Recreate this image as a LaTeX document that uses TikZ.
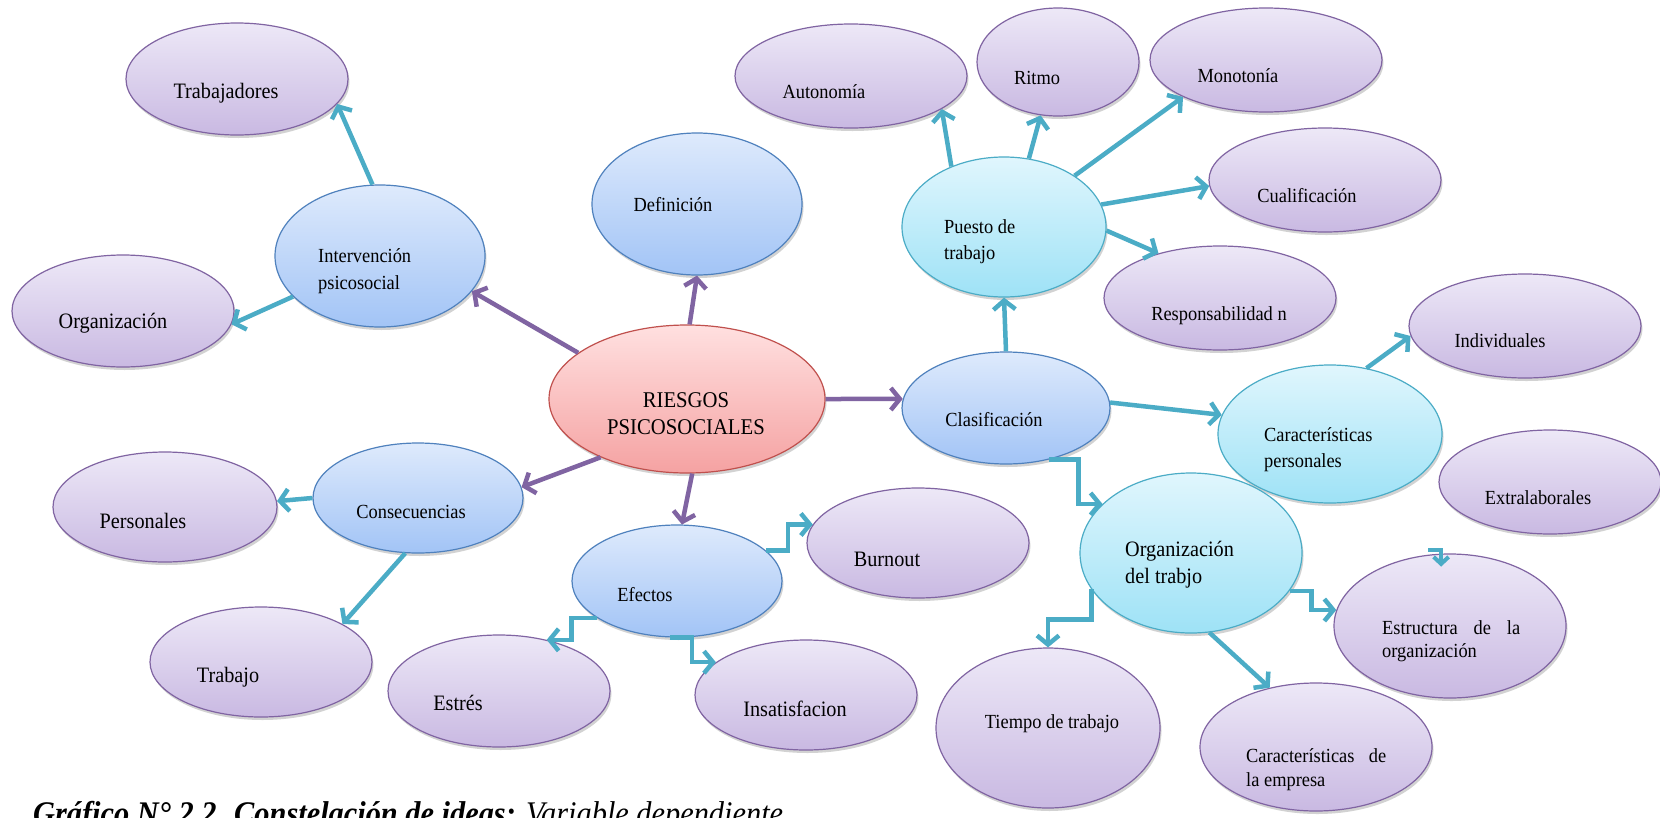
\documentclass[tikz,border=0pt]{standalone}
\usepackage{fontspec}
\setmainfont{Liberation Serif}[FakeStretch=0.92]
\usetikzlibrary{shapes.geometric,arrows.meta,shadows}
\definecolor{leaftop}{RGB}{237,232,247}
\definecolor{leafbot}{RGB}{201,185,226}
\definecolor{leafline}{RGB}{128,100,162}
\definecolor{themetop}{RGB}{222,234,252}
\definecolor{themebot}{RGB}{162,196,246}
\definecolor{themeline}{RGB}{79,129,189}
\definecolor{branchtop}{RGB}{224,246,253}
\definecolor{branchbot}{RGB}{158,226,246}
\definecolor{branchline}{RGB}{75,172,198}
\definecolor{coretop}{RGB}{255,224,224}
\definecolor{corebot}{RGB}{245,162,162}
\definecolor{coreline}{RGB}{192,80,77}
\definecolor{arrpurple}{RGB}{128,100,162}
\definecolor{arrteal}{RGB}{75,172,198}

\tikzset{
    bubble/.style={ellipse, draw, line width=1.2pt, inner sep=0pt,
        drop shadow={shadow xshift=1.5pt, shadow yshift=-3pt, opacity=0.25, fill=black!70}},
    ell/.style 2 args={minimum width=#1, minimum height=#2},
    leaf/.style={bubble, draw=leafline, top color=leaftop, bottom color=leafbot},
    theme/.style={bubble, draw=themeline, top color=themetop, bottom color=themebot},
    branch/.style={bubble, draw=branchline, top color=branchtop, bottom color=branchbot},
    core/.style={bubble, draw=coreline, top color=coretop, bottom color=corebot},
    lbl/.style={inner sep=0pt, font=\fontsize{20}{26}\selectfont},
    biglbl/.style={inner sep=0pt, font=\fontsize{22}{27}\selectfont},
    parr/.style={draw=arrpurple, line width=4.5pt, -{Straight Barb[length=9pt, width=22pt]}},
    tarr/.style={draw=arrteal, line width=4.5pt, -{Straight Barb[length=9pt, width=22pt]}}
}

\begin{document}
\begin{tikzpicture}[x=1pt, y=-1pt]
    \useasboundingbox (0,0) rectangle (1660,817);
    \fill[white] (0,0) rectangle (1660,817);
    \clip (0,0) rectangle (1660,817);

    \node[core, ell={276pt}{148pt}] (riesgos) at (687,399) {};
    \node[inner sep=0pt, align=center, font=\fontsize{22.5}{27}\selectfont] (riesgos-t) at (686,414) {RIESGOS\\PSICOSOCIALES};

    \node[theme, ell={210pt}{142pt}] (interv) at (380,256) {};
    \node[lbl, align=left, anchor=west, font=\fontsize{20}{27}\selectfont] (interv-t) at (318,271) {Intervención\\psicosocial};
    \node[theme, ell={210pt}{142pt}] (defin) at (697,204) {};
    \node[lbl] (defin-t) at (673,205) {Definición};
    \node[theme, ell={210pt}{110pt}] (conse) at (418,498) {};
    \node[lbl] (conse-t) at (411,512) {Consecuencias};
    \node[theme, ell={210pt}{112pt}] (efectos) at (677,581) {};
    \node[lbl] (efectos-t) at (645,595) {Efectos};
    \node[theme, ell={208pt}{112pt}] (clasif) at (1006,408) {};
    \node[lbl] (clasif-t) at (994,420) {Clasificación};

    \node[branch, ell={204pt}{140pt}] (puesto) at (1004,227) {};
    \node[lbl, align=left, anchor=west] (puesto-t) at (944,242) {Puesto de\\trabajo};
    \node[branch, ell={224pt}{138pt}] (carpers) at (1330,434) {};
    \node[lbl, align=left, anchor=west] (carpers-t) at (1264,450) {Características\\personales};
    \node[branch, ell={222pt}{160pt}] (orgtrab) at (1191,553) {};
    \node[biglbl, align=left, anchor=west] (orgtrab-t) at (1125,565) {Organización\\del trabjo};

    \node[leaf, ell={222pt}{112pt}] (trab) at (237,79) {};
    \node[biglbl] (trab-t) at (226,93) {Trabajadores};
    \node[leaf, ell={222pt}{112pt}] (orgz) at (123,311) {};
    \node[biglbl] (orgz-t) at (113,323) {Organización};
    \node[leaf, ell={232pt}{104pt}] (auton) at (851,76) {};
    \node[lbl] (auton-t) at (824,92) {Autonomía};
    \node[leaf, ell={162pt}{108pt}] (ritmo) at (1058,62) {};
    \node[lbl] (ritmo-t) at (1037,78) {Ritmo};
    \node[leaf, ell={232pt}{104pt}] (monot) at (1266,60) {};
    \node[lbl] (monot-t) at (1238,76) {Monotonía};
    \node[leaf, ell={232pt}{104pt}] (cualif) at (1325,180) {};
    \node[lbl] (cualif-t) at (1307,196) {Cualificación};
    \node[leaf, ell={232pt}{104pt}] (respon) at (1220,298) {};
    \node[lbl] (respon-t) at (1219,316) {Responsabilidad n};
    \node[leaf, ell={232pt}{104pt}] (indiv) at (1525,326) {};
    \node[lbl] (indiv-t) at (1500,341) {Individuales};
    \node[leaf, ell={222pt}{104pt}] (extra) at (1550,482) {};
    \node[lbl] (extra-t) at (1538,498) {Extralaborales};
    \node[leaf, ell={232pt}{144pt}] (estruct) at (1450,626) {};
    \node[lbl, text width=138pt, align=justify, anchor=west, font=\fontsize{20}{23}\selectfont] (estruct-t) at (1382,641) {Estructura de la \mbox{organización}};
    \node[leaf, ell={232pt}{128pt}] (carempr) at (1316,747) {};
    \node[lbl, text width=140pt, align=justify, anchor=west, font=\fontsize{20}{24}\selectfont] (carempr-t) at (1246,770) {Características de la \mbox{empresa}};
    \node[leaf, ell={224pt}{160pt}] (tiempo) at (1048,728) {};
    \node[lbl] (tiempo-t) at (1052,724) {Tiempo de trabajo};
    \node[leaf, ell={224pt}{110pt}] (person) at (165,507) {};
    \node[biglbl] (person-t) at (143,521) {Personales};
    \node[leaf, ell={222pt}{110pt}] (trabajo) at (261,662) {};
    \node[biglbl] (trabajo-t) at (228,677) {Trabajo};
    \node[leaf, ell={222pt}{112pt}] (estres) at (499,691) {};
    \node[biglbl] (estres-t) at (458,703) {Estrés};
    \node[leaf, ell={222pt}{110pt}] (burnout) at (918,543) {};
    \node[biglbl] (burnout-t) at (887,559) {Burnout};
    \node[leaf, ell={222pt}{110pt}] (insat) at (806,695) {};
    \node[biglbl] (insat-t) at (795,709) {Insatisfacion};

    \draw[parr] (riesgos.157) -- (interv.-21);
    \draw[parr] (riesgos.88) -- (defin.-90);
    \draw[parr] (riesgos.0) -- (clasif.175);
    \draw[parr] (riesgos.-146) -- (conse.6);
    \draw[parr] (riesgos.-86) -- (efectos.85);

    \draw[tarr] (interv.96) -- (trab.-14);
    \draw[tarr] (interv.-155) -- (orgz.-7);
    \draw[tarr] (conse.180) -- (person.3);
    \draw[tarr] (conse.-103) -- (trabajo.25);
    \draw[tarr] (puesto.131) -- (auton.-20);
    \draw[tarr] (puesto.70) -- (ritmo.-108);
    \draw[tarr] (puesto.36) -- (monot.-156);
    \draw[tarr] (puesto.13) -- (cualif.-177);
    \draw[tarr] (puesto.-2) -- (respon.144);
    \draw[tarr] (clasif.90) -- (puesto.-90);
    \draw[tarr] (clasif.3) -- (carpers.170);
    \draw[tarr] (carpers.61) -- (indiv.-175);
    \draw[tarr] (orgtrab.-77) -- (carempr.128);

    \draw[tarr] (clasif.-50) -- ++(29,0) |- (orgtrab.151);
    \draw[tarr] (efectos.19) -- ++(22,0) |- (burnout.170);
    \draw[tarr] (efectos.-155) -- ++(-26,0) |- (estres.47);
    \draw[tarr] (efectos.-97) -- ++(22,0) |- (insat.160);
    \draw[tarr] (orgtrab.-160) -- ++(0,30) -| (tiempo.north);
    \draw[tarr] (orgtrab.-21) -- ++(22,0) |- (estruct.172);
    \coordinate (xstub) at (1428,550);
    \draw[tarr, line width=4pt, -{Straight Barb[length=7pt, width=15pt]}, shorten >=-13pt] (xstub) -| (estruct.97);

    \node[anchor=base west, inner sep=0pt, font=\fontsize{33}{36}\selectfont] (caption) at (33,824)
        {\textbf{\textit{Gráfico N° 2.2. Constelación de ideas:}} \textit{Variable dependiente}};
\end{tikzpicture}
\end{document}
